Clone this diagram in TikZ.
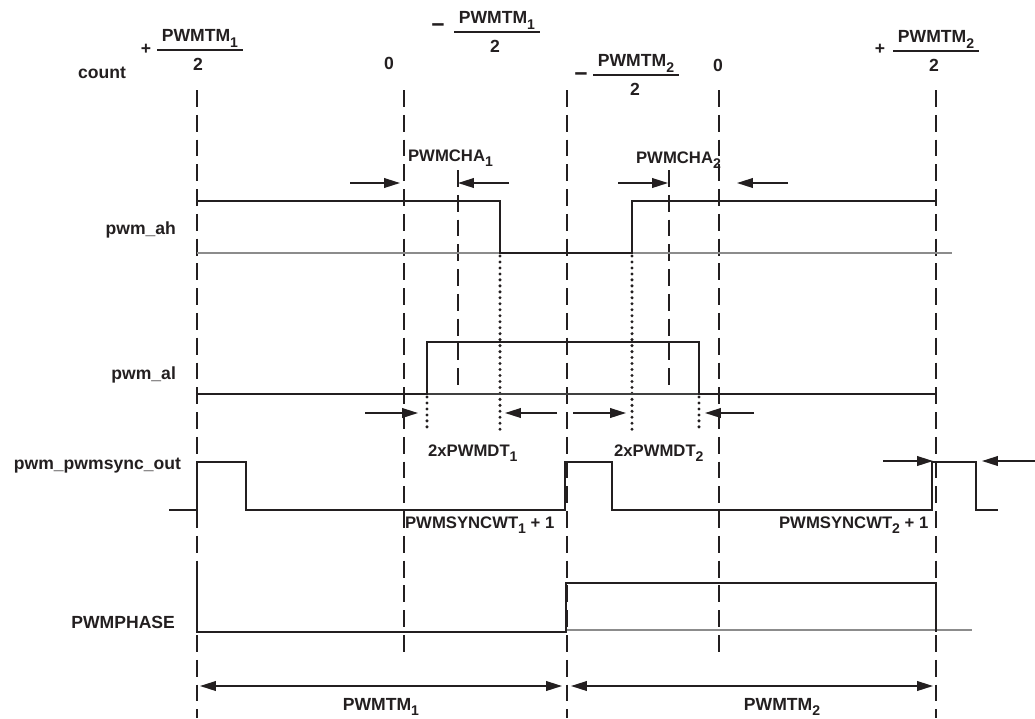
\documentclass[tikz,border=0pt]{standalone}
\usepackage{fontspec}
\setmainfont{Liberation Sans}
\usetikzlibrary{arrows.meta}
\definecolor{sigblack}{RGB}{35,31,32}
\definecolor{tracegray}{RGB}{140,140,140}
\newcommand{\lowsub}[1]{\raisebox{-3.2pt}{\fontsize{8}{9}\selectfont#1}}

\tikzset{
  cntline/.style={sigblack, line width=1.1pt, dash pattern=on 9.6pt off 4.5pt},
  midline/.style={sigblack, line width=0.9pt, dash pattern=on 9.6pt off 4.5pt},
  dotline/.style={sigblack, line width=1.9pt, line cap=round, dash pattern=on 0pt off 3.4pt},
  trace/.style={sigblack, line width=1.15pt},
  zeroline/.style={tracegray, line width=1pt},
  meas/.style={sigblack, line width=0.85pt, -{Triangle[length=9pt,width=5.5pt]}},
  span/.style={sigblack, line width=0.85pt, {Triangle[length=9pt,width=5.5pt]}-{Triangle[length=9pt,width=5.5pt]}},
  fracbar/.style={sigblack, line width=0.85pt},
  lbl/.style={font=\bfseries\fontsize{10}{12}\selectfont, text=sigblack, inner sep=1pt},
  sml/.style={font=\bfseries\fontsize{9.5}{11}\selectfont, text=sigblack, inner sep=1pt},
  sgn/.style={font=\bfseries\fontsize{13}{14}\selectfont, text=sigblack, inner sep=1pt}
}

\begin{document}
\begin{tikzpicture}[x=0.02cm, y=-0.02cm]
        \useasboundingbox (0,0) rectangle (1035,718);
        % counter marks
        \draw[cntline] (197,90) -- (197,718);
        \draw[cntline] (404,90) -- (404,657);
        \draw[cntline] (567,90) -- (567,718);
        \draw[cntline] (719,90) -- (719,657);
        \draw[cntline] (936,90) -- (936,718);
        \draw[midline] (458,170) -- (458,387);
        \draw[midline] (669,170) -- (669,387);
        \draw[dotline] (500,256) -- (500,430);
        \draw[dotline] (632,256) -- (632,430);
        \draw[dotline] (427,397) -- (427,430);
        \draw[dotline] (699,397) -- (699,430);
        % count values
        \node[lbl] (count) at (102,73) {count};
        \node[lbl, anchor=south, inner xsep=2.5pt, inner ysep=1.5pt] (numA) at (200,50) {PWMTM\lowsub{1}};
        \node[lbl, anchor=north] (denA) at (198,56) {2};
        \node[lbl] (sgnA) at (146,49) {+};
        \draw[fracbar] (numA.south west) -- (numA.south east);
        \node[lbl, anchor=south, inner xsep=2.5pt, inner ysep=1.5pt] (numB) at (497,32) {PWMTM\lowsub{1}};
        \node[lbl, anchor=north] (denB) at (495,38) {2};
        \node[sgn] (sgnB) at (438,28) {−};
        \draw[fracbar] (numB.south west) -- (numB.south east);
        \node[lbl, anchor=south, inner xsep=2.5pt, inner ysep=1.5pt] (numC) at (636,75) {PWMTM\lowsub{2}};
        \node[lbl, anchor=north] (denC) at (635,81) {2};
        \node[sgn] (sgnC) at (581,77) {−};
        \draw[fracbar] (numC.south west) -- (numC.south east);
        \node[lbl, anchor=south, inner xsep=2.5pt, inner ysep=1.5pt] (numD) at (936,51) {PWMTM\lowsub{2}};
        \node[lbl, anchor=north] (denD) at (934,57) {2};
        \node[lbl] (sgnD) at (880,49) {+};
        \draw[fracbar] (numD.south west) -- (numD.south east);
        \node[lbl] (zeroA) at (389,63) {0};
        \node[lbl] (zeroB) at (718,65) {0};
        % signal names
        \node[lbl, anchor=east] (ah) at (178,230) {pwm\_ah};
        \node[lbl, anchor=east] (al) at (178,375) {pwm\_al};
        \node[lbl, anchor=east] (sync) at (183,466) {pwm\_pwmsync\_out};
        \node[lbl, anchor=east] (phase) at (177,622) {PWMPHASE};
        % traces
        \draw[zeroline] (197,253) -- (952,253);
        \draw[trace] (197,201) -- (500,201) -- (500,253) -- (632,253) -- (632,201) -- (936,201);
        \draw[black!75, line width=0.6pt] (197,394) -- (936,394);
        \draw[trace] (197,394) -- (427,394) -- (427,342) -- (699,342) -- (699,394) -- (936,394);
        \draw[trace] (169,510) -- (197,510) -- (197,462) -- (246,462) -- (246,510) -- (565,510)
              -- (565,462) -- (612,462) -- (612,510) -- (932,510) -- (932,462) -- (976,462)
              -- (976,510) -- (998,510);
        \draw[zeroline] (567,630) -- (972,630);
        \draw[trace] (197,572) -- (197,632) -- (566,632) -- (566,583) -- (936,583) -- (936,632);
        % timing marks
        \draw[meas] (350,183) -- (400,183);
        \draw[meas] (509,183) -- (458,183);
        \node[sml, anchor=west] (chaA) at (406,158) {PWMCHA\lowsub{1}};
        \draw[meas] (618,183) -- (668,183);
        \draw[meas] (788,183) -- (737,183);
        \node[sml, anchor=west] (chaB) at (634,160) {PWMCHA\lowsub{2}};
        \draw[meas] (365,413) -- (418,413);
        \draw[meas] (557,413) -- (505,413);
        \draw[meas] (573,413) -- (626,413);
        \draw[meas] (754,413) -- (705,413);
        \node[sml, anchor=west] (dtA) at (426,453) {2xPWMDT\lowsub{1}};
        \node[sml, anchor=west] (dtB) at (612,453) {2xPWMDT\lowsub{2}};
        \draw[meas] (883,461) -- (933,461);
        \draw[meas] (1035,461) -- (982,461);
        \node[sml, anchor=west] (swA) at (403,525) {PWMSYNCWT\lowsub{1} + 1};
        \node[sml, anchor=west] (swB) at (777,525) {PWMSYNCWT\lowsub{2} + 1};
        \draw[span] (200,686) -- (562,686);
        \draw[span] (571,686) -- (933,686);
        \node[lbl] (tmA) at (381,707) {PWMTM\lowsub{1}};
        \node[lbl] (tmB) at (782,707) {PWMTM\lowsub{2}};
      \end{tikzpicture}
\end{document}
